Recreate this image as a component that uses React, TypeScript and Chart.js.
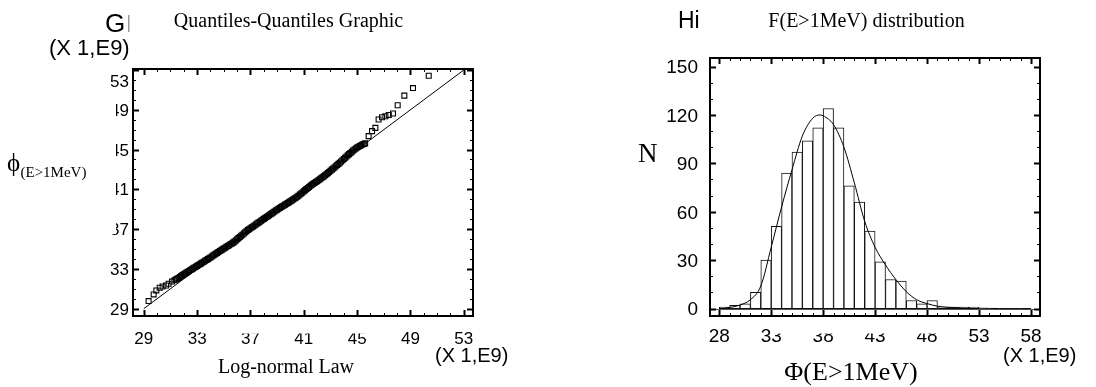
import React, { useEffect, useRef } from "react";
import { Chart, registerables } from "chart.js";

Chart.register(...registerables);

// ---------------- Q-Q plot data (values x 1e9) ----------------
// theoretical log-normal quantiles (x) and sample quantiles (y)
const qqTheoretical = [
  29.36, 29.74, 29.94, 30.19, 30.41, 30.67, 30.86, 31.12, 31.3, 31.4,
  31.5, 31.6, 31.7, 31.8, 31.9, 32.0, 32.1, 32.2, 32.3, 32.4, 32.5, 32.6, 32.7, 32.8, 32.9,
  33.0, 33.1, 33.2, 33.3, 33.4, 33.5, 33.6, 33.7, 33.8, 33.9, 34.0, 34.1, 34.2, 34.3, 34.4,
  34.5, 34.6, 34.7, 34.8, 34.9, 35.0, 35.1, 35.2, 35.3, 35.4, 35.5, 35.6, 35.7, 35.8, 35.9,
  36.0, 36.1, 36.2, 36.3, 36.4, 36.5, 36.6, 36.7, 36.8, 36.9, 37.0, 37.1, 37.2, 37.3, 37.4,
  37.5, 37.6, 37.7, 37.8, 37.9, 38.0, 38.1, 38.2, 38.3, 38.4, 38.5, 38.6, 38.7, 38.8, 38.9,
  39.0, 39.1, 39.2, 39.3, 39.4, 39.5, 39.6, 39.7, 39.8, 39.9, 40.0, 40.1, 40.2, 40.3, 40.4,
  40.5, 40.6, 40.7, 40.8, 40.9, 41.0, 41.1, 41.2, 41.3, 41.4, 41.5, 41.6, 41.7, 41.8, 41.9,
  42.0, 42.1, 42.2, 42.3, 42.4, 42.5, 42.6, 42.7, 42.8, 42.9, 43.0, 43.1, 43.2, 43.3, 43.4,
  43.5, 43.6, 43.7, 43.8, 43.9, 44.0, 44.1, 44.2, 44.3, 44.4, 44.5, 44.6, 44.7, 44.8, 44.9,
  45.0, 45.1, 45.2, 45.3, 45.4, 45.5, 45.6,
  45.86, 46.12, 46.37, 46.61, 46.87, 47.12, 47.37, 47.69, 48.04, 48.54, 49.19, 50.37,
];
const qqSample = [
  29.76, 30.43, 30.83, 31.1, 31.23, 31.33, 31.5, 31.72, 31.86, 31.93,
  32.0, 32.09, 32.18, 32.28, 32.37, 32.45, 32.54, 32.62, 32.71, 32.79, 32.88, 32.96, 33.05, 33.13, 33.22,
  33.3, 33.38, 33.47, 33.55, 33.64, 33.72, 33.81, 33.89, 33.98, 34.06, 34.15, 34.25, 34.34, 34.43, 34.52,
  34.61, 34.7, 34.79, 34.88, 34.96, 35.05, 35.13, 35.22, 35.3, 35.38, 35.47, 35.55, 35.64, 35.74, 35.86,
  35.98, 36.09, 36.21, 36.33, 36.44, 36.56, 36.68, 36.79, 36.9, 36.99, 37.08, 37.18, 37.27, 37.37, 37.46,
  37.56, 37.65, 37.74, 37.84, 37.93, 38.03, 38.12, 38.21, 38.3, 38.39, 38.49, 38.58, 38.67, 38.76, 38.86,
  38.95, 39.04, 39.13, 39.22, 39.3, 39.38, 39.46, 39.54, 39.62, 39.71, 39.8, 39.89, 39.98, 40.07, 40.16,
  40.25, 40.36, 40.47, 40.58, 40.69, 40.8, 40.92, 41.03, 41.14, 41.24, 41.35, 41.45, 41.55, 41.64, 41.73,
  41.82, 41.92, 42.01, 42.11, 42.21, 42.3, 42.41, 42.52, 42.63, 42.75, 42.86, 42.98, 43.09, 43.2, 43.32,
  43.44, 43.56, 43.68, 43.8, 43.92, 44.05, 44.17, 44.3, 44.42, 44.54, 44.66, 44.78, 44.9, 45.0, 45.1,
  45.2, 45.28, 45.36, 45.43, 45.5, 45.56, 45.62,
  46.35, 46.85, 47.18, 48.02, 48.25, 48.35, 48.48, 48.62, 49.45, 50.42, 51.18, 52.42,
];
const qqRefLineX = [29, 53];
const qqRefLineY = [29, 53];
const qqXTickLabels = [29, 33, 37, 41, 45, 49, 53];
const qqYTickLabels = [29, 33, 37, 41, 45, 49, 53];

// ---------------- Histogram data (values x 1e9) ----------------
const histBinStart = [28, 29, 30, 31, 32, 33, 34, 35, 36, 37, 38, 39, 40, 41, 42, 43, 44, 45, 46, 47, 48, 49, 50, 51, 52];
const histCounts = [1, 2, 3, 10, 30, 51, 84, 97, 104, 112, 124, 112, 76, 66, 48, 29, 18, 17, 5, 3, 5, 1, 1, 1, 1];
const fitX = [28, 29, 30, 31, 32, 33, 34, 35, 36, 37, 37.7, 38, 39, 40, 41, 42, 43, 44, 45, 46, 47, 48, 49, 50, 51, 52, 53, 54, 55, 56, 57, 58];
const fitY = [0.2, 0.7, 2.2, 5.5, 14, 38, 63, 86, 107, 118, 120, 119.5, 114, 100, 78, 54, 38, 27, 18, 10.5, 5.5, 3.1, 1.5, 0.8, 0.5, 0.3, 0.2, 0.1, 0, 0, 0, 0];
const histXTickLabels = [28, 33, 38, 43, 48, 53, 58];
const histYTickLabels = [0, 30, 60, 90, 120, 150];

const SANS = '"Liberation Sans", Arial, Helvetica, sans-serif';
const SERIF = '"Liberation Serif", "Times New Roman", "DejaVu Serif", serif';

type TickSpec = { major: number[]; from: number; to: number; step: number; majorLen: number; minorLen: number };
type TextSpec = { text: string; x: number; y: number; font: string; align?: CanvasTextAlign; color?: string };
type RectSpec = { x: number; y: number; w: number; h: number; color: string };
type DecorCfg = {
  xTicks: TickSpec;
  yTicks: TickSpec;
  xLabels: { values: number[]; baseline: number; font: string };
  yLabels: { values: number[]; right: number; font: string; dy: number; shift?: Record<number, number> };
  texts: TextSpec[];
  masks?: RectSpec[];
  rects?: RectSpec[];
  zeroLine?: boolean;
};

function decorPlugin(cfg: DecorCfg) {
  return {
    id: "decor",
    beforeDatasetsDraw(chart: any) {
      if (!cfg.zeroLine) return;
      const ctx = chart.ctx;
      const { left, right } = chart.chartArea;
      const y0 = Math.round(chart.scales.y.getPixelForValue(0)) + 0.5;
      ctx.save();
      ctx.strokeStyle = "#555";
      ctx.lineWidth = 1;
      ctx.beginPath();
      ctx.moveTo(left, y0);
      ctx.lineTo(right, y0);
      ctx.stroke();
      ctx.restore();
    },
    afterDraw(chart: any) {
      const ctx: CanvasRenderingContext2D = chart.ctx;
      const { left, right, top, bottom } = chart.chartArea;
      const xs = chart.scales.x;
      const ys = chart.scales.y;
      ctx.save();
      ctx.strokeStyle = "#000";
      const isMajor = (arr: number[], v: number) => arr.some((m) => Math.abs(m - v) < 1e-6);
      for (let v = cfg.xTicks.from; v <= cfg.xTicks.to + 1e-9; v += cfg.xTicks.step) {
        const maj = isMajor(cfg.xTicks.major, v);
        const len = maj ? cfg.xTicks.majorLen : cfg.xTicks.minorLen;
        const px = Math.round(xs.getPixelForValue(v)) + 0.5;
        ctx.lineWidth = maj ? 2 : 1;
        ctx.beginPath();
        ctx.moveTo(px, bottom);
        ctx.lineTo(px, bottom - len);
        ctx.moveTo(px, top);
        ctx.lineTo(px, top + len);
        ctx.stroke();
      }
      for (let v = cfg.yTicks.from; v <= cfg.yTicks.to + 1e-9; v += cfg.yTicks.step) {
        const maj = isMajor(cfg.yTicks.major, v);
        const len = maj ? cfg.yTicks.majorLen : cfg.yTicks.minorLen;
        const py = Math.round(ys.getPixelForValue(v)) + 0.5;
        ctx.lineWidth = maj ? 2 : 1;
        ctx.beginPath();
        ctx.moveTo(left, py);
        ctx.lineTo(left + len, py);
        ctx.moveTo(right, py);
        ctx.lineTo(right - len, py);
        ctx.stroke();
      }
      ctx.lineWidth = 2;
      ctx.strokeRect(left, top, right - left, bottom - top);
      ctx.fillStyle = "#000";
      ctx.textBaseline = "alphabetic";
      ctx.font = cfg.xLabels.font;
      ctx.textAlign = "center";
      for (const v of cfg.xLabels.values) {
        ctx.fillText(String(v), xs.getPixelForValue(v), cfg.xLabels.baseline);
      }
      ctx.font = cfg.yLabels.font;
      ctx.textAlign = "right";
      for (const v of cfg.yLabels.values) {
        const sh = cfg.yLabels.shift?.[v] ?? 0;
        ctx.fillText(String(v), cfg.yLabels.right, ys.getPixelForValue(v) + cfg.yLabels.dy + sh);
      }
      // partly hidden tick labels, as in the source picture
      for (const m of cfg.masks ?? []) {
        ctx.fillStyle = m.color;
        ctx.fillRect(m.x, m.y, m.w, m.h);
      }
      for (const t of cfg.texts) {
        ctx.font = t.font;
        ctx.textAlign = t.align ?? "left";
        ctx.fillStyle = t.color ?? "#000";
        ctx.fillText(t.text, t.x, t.y);
      }
      for (const r of cfg.rects ?? []) {
        ctx.fillStyle = r.color;
        ctx.fillRect(r.x, r.y, r.w, r.h);
      }
      ctx.restore();
    },
  };
}

function qqConfig(): any {
  const points = qqTheoretical.map((x, i) => ({ x, y: qqSample[i] }));
  const refLine = qqRefLineX.map((x, i) => ({ x, y: qqRefLineY[i] }));
  return {
    type: "scatter",
    data: {
      datasets: [
        {
          type: "line",
          data: refLine,
          borderColor: "#000",
          borderWidth: 1,
          pointRadius: 0,
          fill: false,
          order: 2,
        },
        {
          type: "scatter",
          data: points,
          pointStyle: "rect",
          pointRadius: 3.5,
          borderWidth: 1.1,
          borderColor: "#000",
          backgroundColor: "rgba(255,255,255,0)",
          order: 1,
        },
      ],
    },
    options: {
      responsive: false,
      animation: false,
      devicePixelRatio: 1,
      events: [],
      layout: { padding: { left: 133, right: 75, top: 69, bottom: 71 } },
      plugins: { legend: { display: false }, tooltip: { enabled: false }, title: { display: false } },
      scales: {
        x: { type: "linear", min: 28.19, max: 53.69, display: false },
        y: { type: "linear", min: 28.26, max: 53.1, display: false },
      },
    },
    plugins: [
      decorPlugin({
        xTicks: { major: qqXTickLabels, from: 29, to: 53, step: 1, majorLen: 6, minorLen: 3 },
        yTicks: { major: qqYTickLabels, from: 29, to: 53, step: 1, majorLen: 6, minorLen: 3 },
        xLabels: { values: qqXTickLabels, baseline: 343.5, font: `17px ${SANS}` },
        yLabels: { values: qqYTickLabels, right: 129, font: `17px ${SANS}`, dy: 6, shift: { 53: 11 } },
        masks: [
          { x: 201, y: 324, w: 168, h: 9.5, color: "#fff" },
          { x: 100, y: 96, w: 16, h: 138, color: "#fff" },
        ],
        texts: [
          { text: "G", x: 105, y: 32, font: `26px ${SANS}` },
          { text: "Quantiles-Quantiles Graphic", x: 288.5, y: 27, font: `20px ${SERIF}`, align: "center" },
          { text: "(X 1,E9)", x: 49, y: 55, font: `22px ${SANS}` },
          { text: "\u03d5", x: 7, y: 171, font: `25px ${SERIF}` },
          { text: "(E>1MeV)", x: 20.5, y: 177, font: `15px ${SERIF}` },
          { text: "Log-normal Law", x: 286, y: 373, font: `20px ${SERIF}`, align: "center" },
          { text: "(X 1,E9)", x: 435, y: 361.5, font: `20px ${SANS}` },
        ],
        rects: [{ x: 128, y: 15, w: 1.5, h: 17, color: "#999" }],
      }),
    ],
  };
}

function histConfig(): any {
  const bars = histBinStart.map((s, i) => ({ x: s + 0.5, y: histCounts[i] }));
  const fit = fitX.map((x, i) => ({ x, y: fitY[i] }));
  const off = 548;
  return {
    type: "bar",
    data: {
      datasets: [
        {
          type: "line",
          data: fit,
          borderColor: "#000",
          borderWidth: 1,
          pointRadius: 0,
          fill: false,
          cubicInterpolationMode: "monotone",
          order: 1,
        },
        {
          type: "bar",
          data: bars,
          backgroundColor: "#fff",
          borderColor: "#111",
          borderWidth: 1,
          borderSkipped: false,
          barPercentage: 1,
          categoryPercentage: 1,
          grouped: false,
          order: 2,
        },
      ],
    },
    options: {
      responsive: false,
      animation: false,
      devicePixelRatio: 1,
      events: [],
      layout: { padding: { left: 162, right: 56, top: 58, bottom: 71 } },
      plugins: { legend: { display: false }, tooltip: { enabled: false }, title: { display: false } },
      scales: {
        x: { type: "linear", min: 27.11, max: 58.87, display: false, offset: false },
        y: { type: "linear", min: -4.6, max: 155.3, display: false },
      },
    },
    plugins: [
      decorPlugin({
        xTicks: { major: histXTickLabels, from: 28, to: 58, step: 1, majorLen: 6, minorLen: 3 },
        yTicks: { major: histYTickLabels, from: 0, to: 150, step: 10, majorLen: 6, minorLen: 3 },
        xLabels: { values: histXTickLabels, baseline: 342, font: `19px ${SANS}` },
        yLabels: { values: histYTickLabels, right: 698 - off, font: `19px ${SANS}`, dy: 6.8 },
        masks: [{ x: 771 - off, y: 324, w: 170, h: 9.5, color: "#fff" }],
        texts: [
          { text: "Hi", x: 678 - off, y: 28, font: `23px ${SANS}` },
          { text: "F(E>1MeV) distribution", x: 866.5 - off, y: 27, font: `20px ${SERIF}`, align: "center" },
          { text: "N", x: 638 - off, y: 162, font: `27px ${SERIF}` },
          { text: "\u03a6(E>1MeV)", x: 851 - off, y: 380, font: `26px ${SERIF}`, align: "center" },
          { text: "(X 1,E9)", x: 1003 - off, y: 361.5, font: `20px ${SANS}` },
        ],
        zeroLine: true,
      }),
    ],
  };
}

export default function App() {
  const qqRef = useRef<HTMLCanvasElement>(null);
  const histRef = useRef<HTMLCanvasElement>(null);
  useEffect(() => {
    const c1 = new Chart(qqRef.current as HTMLCanvasElement, qqConfig());
    const c2 = new Chart(histRef.current as HTMLCanvasElement, histConfig());
    return () => {
      c1.destroy();
      c2.destroy();
    };
  }, []);
  return (
    <div
      style={{
        position: "absolute",
        left: 0,
        top: 0,
        width: 1096,
        height: 387,
        background: "#fff",
        display: "flex",
        overflow: "hidden",
      }}
    >
      <canvas ref={qqRef} width={548} height={387} style={{ display: "block", width: 548, height: 387 }} />
      <canvas ref={histRef} width={548} height={387} style={{ display: "block", width: 548, height: 387 }} />
    </div>
  );
}
